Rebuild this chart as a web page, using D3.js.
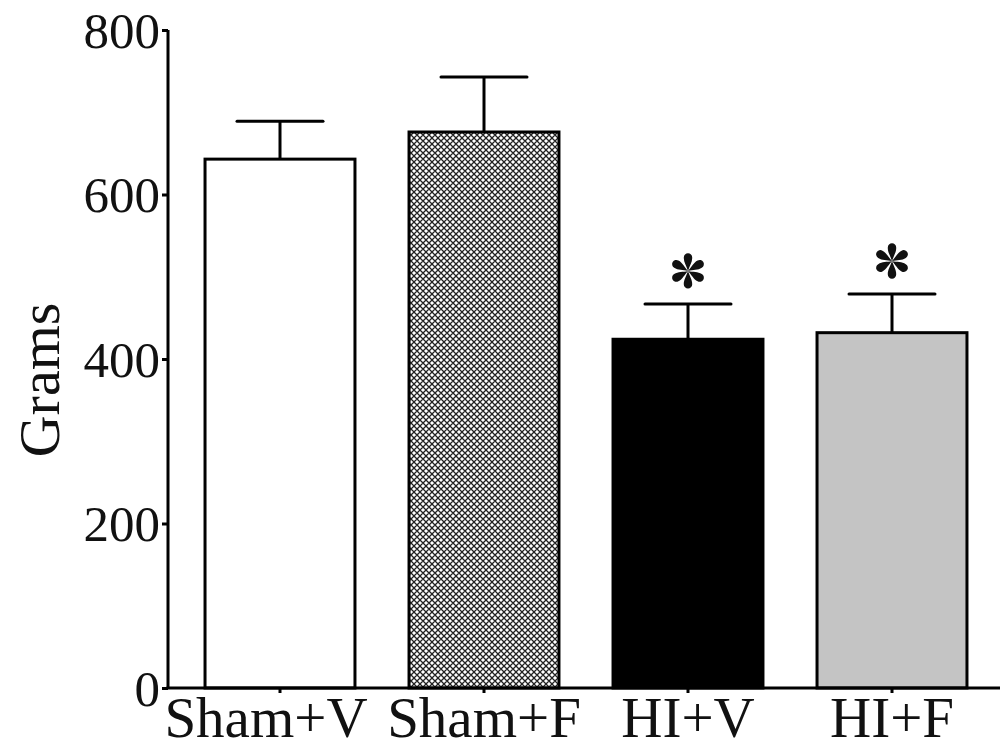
<!DOCTYPE html>
<meta charset="utf-8" />
<script src="https://d3js.org/d3.v7.min.js"></script>
<style>
  body { margin: 0; background: #fff; }
  text { font-family: "Liberation Serif", "Times New Roman", serif; fill: #111; }
</style>
<svg id="chart" width="1000" height="750"></svg>
<script>
  // data
  var groups = ["Sham+V", "Sham+F", "HI+V", "HI+F"];
  var means = [643, 676, 424, 432];
  var errTops = [689, 743, 467, 479];
  var signif = [false, false, true, true];
  var yTicks = [0, 200, 400, 600, 800];

  var svg = d3.select("#chart");

  var x = d3.scaleBand()
    .domain(groups)
    .range([178, 994])
    .paddingInner(0.265)
    .paddingOuter(0.1325);

  var y = d3.scaleLinear().domain([0, 800]).range([688, 30]);

  // crosshatch for Sham+F
  var defs = svg.append("defs");
  var pat = defs.append("pattern")
    .attr("id", "hatch")
    .attr("patternUnits", "userSpaceOnUse")
    .attr("width", 6)
    .attr("height", 6);
  pat.append("rect").attr("width", 6).attr("height", 6).attr("fill", "#fff");
  pat.append("path")
    .attr("d", "M0,0 L6,6 M-3,3 L3,9 M3,-3 L9,3 M6,0 L0,6 M-3,3 L3,-3 M3,9 L9,3")
    .attr("stroke", "#222")
    .attr("stroke-width", 1.3);

  var fills = { "Sham+V": "#fff", "Sham+F": "url(#hatch)", "HI+V": "#000", "HI+F": "#c4c4c4" };

  var data = groups.map(function(g, i) {
    return { g: g, m: means[i], e: errTops[i], s: signif[i] };
  });

  // error bars (upper only)
  var eb = svg.append("g").attr("stroke", "#000").attr("stroke-width", 3);
  eb.selectAll(".stem").data(data).enter().append("line")
    .attr("x1", function(d) { return x(d.g) + x.bandwidth() / 2; })
    .attr("x2", function(d) { return x(d.g) + x.bandwidth() / 2; })
    .attr("y1", function(d) { return y(d.m); })
    .attr("y2", function(d) { return y(d.e); });
  eb.selectAll(".cap").data(data).enter().append("line")
    .attr("stroke-linecap", "round")
    .attr("x1", function(d) { return x(d.g) + x.bandwidth() / 2 - 43; })
    .attr("x2", function(d) { return x(d.g) + x.bandwidth() / 2 + 43; })
    .attr("y1", function(d) { return y(d.e); })
    .attr("y2", function(d) { return y(d.e); });

  // bars
  svg.append("g").selectAll("rect").data(data).enter().append("rect")
    .attr("x", function(d) { return x(d.g); })
    .attr("y", function(d) { return y(d.m); })
    .attr("width", x.bandwidth())
    .attr("height", function(d) { return y(0) - y(d.m); })
    .attr("fill", function(d) { return fills[d.g]; })
    .attr("stroke", "#000")
    .attr("stroke-width", 3);

  // asterisks (six teardrop petals)
  var stars = svg.append("g").selectAll("g").data(data.filter(function(d) { return d.s; }))
    .enter().append("g")
    .attr("transform", function(d) {
      return "translate(" + (x(d.g) + x.bandwidth() / 2) + "," + (y(d.e) - 33) + ")";
    });
  [0, 60, 120, 180, 240, 300].forEach(function(a) {
    stars.append("path")
      .attr("transform", "rotate(" + a + ")")
      .attr("d", "M0,0 C-1.5,-5 -4.5,-9 -4.2,-13.5 A4.2,4.2 0 0 1 4.2,-13.5 C4.5,-9 1.5,-5 0,0 Z")
      .attr("fill", "#111");
  });

  // y axis
  var yAxis = svg.append("g")
    .attr("transform", "translate(168,0)")
    .call(d3.axisLeft(y).tickValues(yTicks).tickSize(6).tickPadding(2).tickFormat(d3.format("d")));
  yAxis.select(".domain").attr("stroke-width", 3).attr("d", "M0,30V688");
  yAxis.selectAll(".tick line").attr("stroke-width", 3);
  yAxis.selectAll(".tick text").attr("font-size", 51).attr("dy", "0.34em")
    .style("font-family", "Liberation Serif").attr("fill", "#111");

  // x axis
  var xAxis = svg.append("g")
    .attr("transform", "translate(0,688)")
    .call(d3.axisBottom(x).tickSize(5).tickPadding(3));
  xAxis.select(".domain").attr("stroke-width", 3).attr("d", "M166.5,0H1000");
  xAxis.selectAll(".tick line").attr("stroke-width", 3);
  xAxis.selectAll(".tick text").attr("font-size", 57).attr("dy", "0.72em")
    .attr("dx", function(d) { return d === "Sham+V" ? -14 : 0; })
    .style("font-family", "Liberation Serif").attr("fill", "#111");

  // y label
  svg.append("text")
    .attr("transform", "translate(59,380) rotate(-90)")
    .attr("text-anchor", "middle")
    .attr("font-size", 58)
    .text("Grams");
</script>
